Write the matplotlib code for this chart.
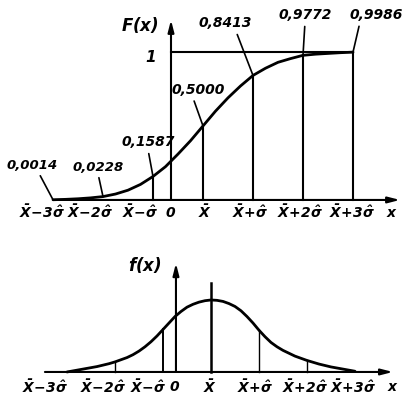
import matplotlib
matplotlib.use("Agg")
import matplotlib.pyplot as plt

plt.rcParams["font.family"] = "DejaVu Sans"
plt.rcParams["mathtext.fontset"] = "dejavusans"

# positions in units of sigma measured from the mean
s_grid = [-3.0, -2.75, -2.5, -2.25, -2.0, -1.75, -1.5, -1.25, -1.0, -0.75, -0.5, -0.25,
          0.0, 0.25, 0.5, 0.75, 1.0, 1.25, 1.5, 1.75, 2.0, 2.25, 2.5, 2.75, 3.0]

# distribution function F(x)
F_vals = [0.0014, 0.004, 0.008, 0.014, 0.0228, 0.04, 0.066, 0.105, 0.1587, 0.225, 0.31, 0.40,
          0.5000, 0.60, 0.69, 0.77, 0.8413, 0.89, 0.93, 0.955, 0.9772, 0.985, 0.99, 0.995, 0.9986]

# density f(x), relative to its peak, on a finer grid
s_fine = [-3.0, -2.875, -2.75, -2.625, -2.5, -2.375, -2.25, -2.125, -2.0, -1.875, -1.75,
          -1.625, -1.5, -1.375, -1.25, -1.125, -1.0, -0.875, -0.75, -0.625, -0.5, -0.375,
          -0.25, -0.125, 0.0, 0.125, 0.25, 0.375, 0.5, 0.625, 0.75, 0.875, 1.0, 1.125,
          1.25, 1.375, 1.5, 1.625, 1.75, 1.875, 2.0, 2.125, 2.25, 2.375, 2.5, 2.625,
          2.75, 2.875, 3.0]
f_vals = [0.0, 0.015, 0.03, 0.045, 0.06, 0.075, 0.095, 0.115, 0.14, 0.17, 0.20,
          0.24, 0.29, 0.35, 0.42, 0.50, 0.59, 0.68, 0.77, 0.84, 0.90, 0.94,
          0.97, 0.99, 1.0, 0.995, 0.98, 0.95, 0.91, 0.85, 0.77, 0.68, 0.58, 0.49,
          0.41, 0.35, 0.30, 0.26, 0.22, 0.19, 0.16, 0.135, 0.11, 0.09, 0.07, 0.055,
          0.04, 0.025, 0.01]

# marked points of F(x) and their printed values
F_marks_s = [-3, -2, -1, 0, 1, 2, 3]
F_marks = [0.0014, 0.0228, 0.1587, 0.5000, 0.8413, 0.9772, 0.9986]
F_texts = ["0,0014", "0,0228", "0,1587", "0,5000", "0,8413", "0,9772", "0,9986"]

# ordinates drawn under the density curve
f_lines_s = [-2, -1, 1, 2]
f_lines = [0.14, 0.59, 0.58, 0.16]

tick_texts = [r"$\mathbfit{\bar{X}\!-\!3\hat{\sigma}}$", r"$\mathbfit{\bar{X}\!-\!2\hat{\sigma}}$",
              r"$\mathbfit{\bar{X}\!-\!\hat{\sigma}}$", r"$\mathbfit{0}$", r"$\mathbfit{\bar{X}}$",
              r"$\mathbfit{\bar{X}\!+\!\hat{\sigma}}$", r"$\mathbfit{\bar{X}\!+\!2\hat{\sigma}}$",
              r"$\mathbfit{\bar{X}\!+\!3\hat{\sigma}}$", r"$\mathbfit{x}$"]

zero_top = -0.64   # where x = 0 lies on the upper graph
zero_bot = -0.73   # and on the lower one

fig = plt.figure(figsize=(4.10, 4.03), dpi=100)
ax1 = fig.add_axes([0, 173 / 403, 1, 230 / 403])
ax1.set_xlim(-4.06, 4.14)
ax1.set_ylim(-0.203, 1.351)
ax2 = fig.add_axes([0, 0, 1, 173 / 403])
ax2.set_xlim(-4.396, 4.146)
ax2.set_ylim(-0.431, 1.972)
for ax in (ax1, ax2):
    ax.axis("off")

arrow = dict(arrowstyle="-|>,head_length=0.7,head_width=0.18", lw=1.5, color="k",
             shrinkA=0, shrinkB=0)

# ---- upper graph: F(x)
ax1.annotate("", xy=(3.94, 0), xytext=(-2.96, 0), arrowprops=arrow)
ax1.annotate("", xy=(zero_top, 1.216), xytext=(zero_top, 0), arrowprops=arrow)
ax1.plot([zero_top, 3], [1, 1], color="k", lw=1.5)
ax1.plot(s_grid, F_vals, color="k", lw=2.0, solid_capstyle="round", solid_joinstyle="round")
for s, v in zip(F_marks_s[2:], F_marks[2:]):
    top = 1 if s == 3 else v
    ax1.plot([s, s], [0, top], color="k", lw=1.5)

offsets = [(-21, 28), (-5, 23), (-5, 27), (-5, 29), (-28, 45), (2, 33), (23, 30)]
relx = [0.62, 0.5, 0.5, 0.4, 0.7, 0.5, 0.2]
for s, v, t, off, rx in zip(F_marks_s, F_marks, F_texts, offsets, relx):
    ax1.annotate(t, xy=(s, v), xytext=off, textcoords="offset pixels",
                 ha="center", va="bottom", fontsize=9.5 if s < -1 else 10,
                 style="italic", fontweight="bold",
                 arrowprops=dict(arrowstyle="-", lw=1.2, color="k",
                                 relpos=(rx, 0), shrinkA=1, shrinkB=0))

ax1.text(-1.26, 1.18, r"$\mathbfit{F(x)}$", fontsize=12, ha="center", va="center")
ax1.text(-1.06, 0.966, r"$\mathbfit{1}$", fontsize=11, ha="center", va="center")

top_label_x = [-3.22, -2.26, -1.26, -0.64, 0.04, 0.94, 1.94, 2.98, 3.78]
for x, t in zip(top_label_x, tick_texts):
    ax1.text(x, -0.085, t, fontsize=10, ha="center", va="center")

# ---- lower graph: f(x)
ax2.annotate("", xy=(3.79, 0), xytext=(-3.46, 0), arrowprops=arrow)
ax2.annotate("", xy=(zero_bot, 1.51), xytext=(zero_bot, 0), arrowprops=arrow)
ax2.plot(s_fine, f_vals, color="k", lw=2.0, solid_capstyle="round", solid_joinstyle="round")
ax2.plot([0, 0], [0, 1.24], color="k", lw=1.8)
for s, v in zip(f_lines_s, f_lines):
    ax2.plot([s, s], [0, v], color="k", lw=1.4 if s == -1 else 1.0)

ax2.text(-1.375, 1.49, r"$\mathbfit{f(x)}$", fontsize=12, ha="center", va="center")

bot_label_x = [-3.46, -2.25, -1.31, -0.75, -0.02, 0.92, 1.96, 2.96, 3.79]
for x, t in zip(bot_label_x, tick_texts):
    ax2.text(x, -0.21, t, fontsize=10, ha="center", va="center")

fig.savefig("out.png", dpi=100, facecolor="white")
